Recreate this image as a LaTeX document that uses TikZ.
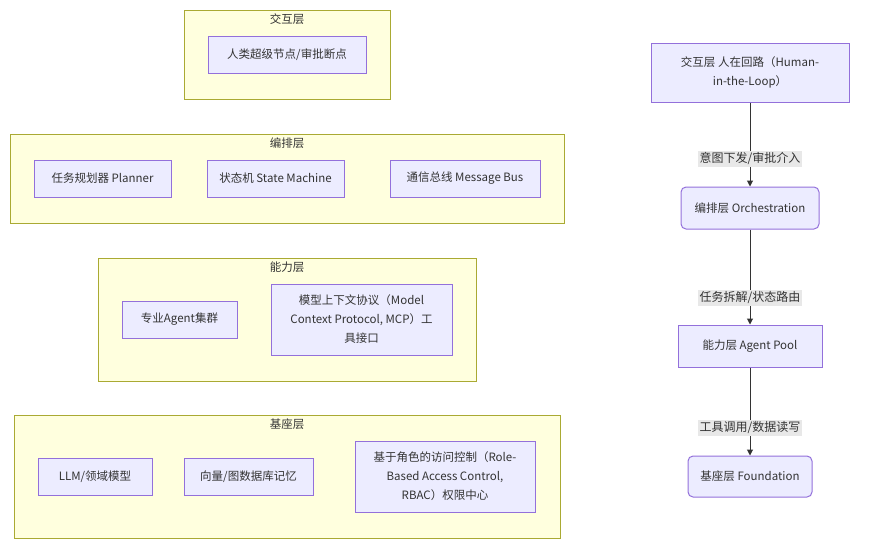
\documentclass[tikz,border=0pt]{standalone}
\usepackage{fontspec}
\setmainfont{Noto Sans CJK SC}
\usepackage{tikz}
\usetikzlibrary{arrows.meta}

\definecolor{clfill}{HTML}{FFFFDE}
\definecolor{cldraw}{HTML}{AAAA33}
\definecolor{ndfill}{HTML}{ECECFF}
\definecolor{nddraw}{HTML}{9370DB}
\definecolor{txt}{HTML}{333333}
\definecolor{lblfill}{HTML}{E8E8E8}

\tikzset{
	layer/.style={draw=cldraw, fill=clfill, line width=1pt, inner sep=0pt},
	layertitle/.style={text=txt, inner sep=0pt, font=\fontsize{11.5}{13}\selectfont},
	box/.style={draw=nddraw, fill=ndfill, line width=1pt, text=txt, align=center,
		inner sep=0pt, font=\fontsize{11.5}{19}\selectfont},
	rbox/.style={box, rounded corners=5pt},
	flow/.style={-{Triangle[length=6pt,width=6pt]}, draw=txt, line width=1pt},
	flowlabel/.style={fill=lblfill, text=txt, inner sep=2pt, font=\fontsize{12}{14}\selectfont}
}

\begin{document}
\begin{tikzpicture}[x=1pt, y=-1pt]
	\useasboundingbox (0,0) rectangle (870,552);

	% layers
	\node [layer, minimum width=206, minimum height=89] (jhc) at (287,54.5) {};
	\node [layer, minimum width=554, minimum height=89] (bpc) at (287,178.5) {};
	\node [layer, minimum width=378, minimum height=123] (nlc) at (287,319.5) {};
	\node [layer, minimum width=546, minimum height=123] (jzc) at (287,476.5) {};
	% label
	\node [layertitle] (jht) at (287,19) {交互层};
	\node [layertitle] (bpt) at (287,143) {编排层};
	\node [layertitle] (nlt) at (287,267) {能力层};
	\node [layertitle] (jzt) at (287,424) {基座层};

	% jhc
	\node [box, minimum width=158, minimum height=37] (hitl) at (287,54.5) {人类超级节点/审批断点};
	% bpc
	\node [box, minimum width=137, minimum height=37] (planner) at (102.5,178.5) {任务规划器 Planner};
	\node [box, minimum width=137, minimum height=37] (fsm) at (275.5,178.5) {状态机 State Machine};
	\node [box, minimum width=150, minimum height=37] (bus) at (465,178.5) {通信总线 Message Bus};
	% nlc
	\node [box, minimum width=115, minimum height=37] (agents) at (179.5,319.5) {专业Agent集群};
	\node [box, minimum width=181, minimum height=71] (mcp) at (361.5,319.5) {模型上下文协议（Model\\Context Protocol, MCP）工\\具接口};
	% jzc
	\node [box, minimum width=114, minimum height=37] (llm) at (95,476.5) {LLM/领域模型};
	\node [box, minimum width=129, minimum height=37] (mem) at (248.5,476.5) {向量/图数据库记忆};
	\node [box, minimum width=180, minimum height=71] (rbac) at (445,476.5) {基于角色的访问控制（Role-\\Based Access Control,\\RBAC）权限中心};

	% flow
	\node [box, minimum width=198, minimum height=59] (human) at (750,72.5) {交互层 人在回路（Human-\\in-the-Loop）};
	\node [rbox, minimum width=138, minimum height=42] (orch) at (750,208) {编排层 Orchestration};
	\node [box, minimum width=144, minimum height=42] (pool) at (750,346) {能力层 Agent Pool};
	\node [rbox, minimum width=124, minimum height=41] (found) at (750,476.5) {基座层 Foundation};

	\draw [flow] (human) -- node [flowlabel, pos=0.67] {意图下发/审批介入} (orch);
	\draw [flow] (orch) -- node [flowlabel, pos=0.72] {任务拆解/状态路由} (pool);
	\draw [flow] (pool) -- node [flowlabel, pos=0.685] {工具调用/数据读写} (found);
\end{tikzpicture}
\end{document}
